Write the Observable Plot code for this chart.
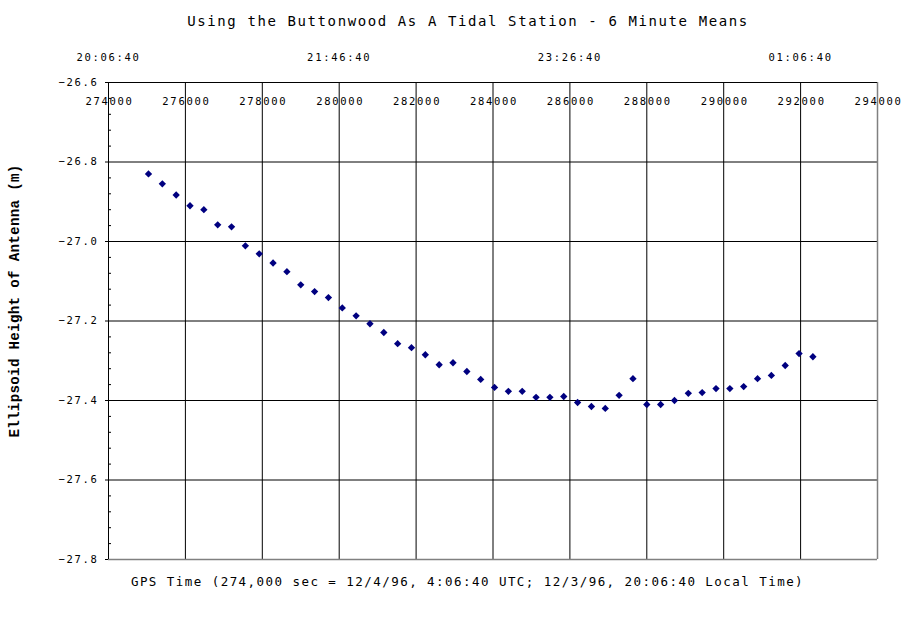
<!DOCTYPE html>
<html>
<head>
<meta charset="utf-8">
<script src="https://cdn.jsdelivr.net/npm/d3@7"></script>
<script src="https://cdn.jsdelivr.net/npm/@observablehq/plot@0.6"></script>
<style>
  html, body { margin: 0; padding: 0; background: #fff; }
  svg { display: block; }
  g[font-size="10.5"] text { letter-spacing: 1.7px; }
  g[font-size="12.5"] text { letter-spacing: 1.45px; }
  g[font-size="14"] text { letter-spacing: 1.6px; }
  g[font-size="14.2"] text { letter-spacing: 0.3px; }
</style>
</head>
<body>
<div id="chart"></div>
<script>
// GPS time (seconds) of each 6‑minute mean
const gpsSeconds = [
  275040, 275400, 275760, 276120, 276480, 276840, 277200, 277560, 277920, 278280,
  278640, 279000, 279360, 279720, 280080, 280440, 280800, 281160, 281520, 281880,
  282240, 282600, 282960, 283320, 283680, 284040, 284400, 284760, 285120, 285480,
  285840, 286200, 286560, 286920, 287280, 287640, 288000, 288360, 288720, 289080,
  289440, 289800, 290160, 290520, 290880, 291240, 291600, 291960, 292320
];
// Ellipsoid height of antenna (m)
const heights = [
  -26.830, -26.855, -26.883, -26.910, -26.920, -26.958, -26.963, -27.011, -27.031, -27.054,
  -27.076, -27.109, -27.126, -27.141, -27.167, -27.187, -27.207, -27.229, -27.257, -27.267,
  -27.285, -27.310, -27.305, -27.327, -27.347, -27.367, -27.377, -27.377, -27.392, -27.392,
  -27.390, -27.405, -27.415, -27.420, -27.387, -27.345, -27.410, -27.410, -27.400, -27.382,
  -27.380, -27.370, -27.370, -27.365, -27.345, -27.337, -27.312, -27.282, -27.290
];

const xTicks = [274000, 276000, 278000, 280000, 282000, 284000, 286000, 288000, 290000, 292000, 294000];
const xGrid = [276000, 278000, 280000, 282000, 284000, 286000, 288000, 290000, 292000];
const yTicks = [-26.6, -26.8, -27.0, -27.2, -27.4, -27.6, -27.8];
const yGrid = [-26.8, -27.0, -27.2, -27.4, -27.6];
const yMinor = [-26.64, -26.68, -26.72, -26.76, -26.84, -26.88, -26.92, -26.96,
                -27.04, -27.08, -27.12, -27.16, -27.24, -27.28, -27.32, -27.36,
                -27.44, -27.48, -27.52, -27.56, -27.64, -27.68, -27.72, -27.76];
const timeLabelSeconds = [274000, 280000, 286000, 292000];
const timeLabels = ["20:06:40", "21:46:40", "23:26:40", "01:06:40"];

const title = "Using the Buttonwood As A Tidal Station - 6 Minute Means";
const xLabel = "GPS Time (274,000 sec = 12/4/96, 4:06:40 UTC; 12/3/96, 20:06:40 Local Time)";
const yLabel = "Ellipsoid Height of Antenna (m)";

const points = gpsSeconds.map((s, i) => ({s, h: heights[i]}));
const timeData = timeLabelSeconds.map((s, i) => ({s, label: timeLabels[i]}));

const mono = "'DejaVu Sans Mono', monospace";

const chart = Plot.plot({
  width: 911,
  height: 623,
  marginTop: 82,
  marginRight: 34,
  marginBottom: 64,
  marginLeft: 108,
  style: {fontFamily: mono, color: "#000", background: "#fff"},
  x: {domain: [274000, 294000], axis: null},
  y: {domain: [-27.8, -26.6], axis: null},
  marks: [
    // x tick labels (drawn below grid lines, inside the plot)
    Plot.text(xTicks, {x: d => d, y: -26.6, dy: 19, dx: 1, text: d => String(d),
      fontSize: 10.5, fill: "#000", textAnchor: "middle"}),
    // time labels above the top axis
    Plot.text(timeData, {x: "s", y: -26.6, dy: -25, text: "label",
      fontSize: 10.5, fill: "#000", textAnchor: "middle"}),
    // grid
    Plot.ruleX(xGrid, {stroke: "#000", strokeWidth: 1}),
    Plot.ruleY(yGrid, {stroke: "#000", strokeWidth: 1}),
    // frame: bottom & right grey, top & left black axes
    Plot.ruleY([-27.8], {stroke: "#808080", strokeWidth: 1.5}),
    Plot.ruleX([294000], {stroke: "#808080", strokeWidth: 1.5}),
    Plot.ruleY([-26.6], {stroke: "#000", strokeWidth: 1}),
    Plot.ruleX([274000], {stroke: "#000", strokeWidth: 1}),
    // minor y ticks (inward)
    Plot.tickY(yMinor, {y: d => d, insetRight: 766, stroke: "#000"}),
    // y axis
    Plot.axisY({ticks: yTicks, anchor: "left", tickSize: 3, tickPadding: 7,
      tickFormat: d => "\u2212" + Math.abs(d).toFixed(1), fontSize: 10.5, label: null}),
    // data
    Plot.dot(points, {x: "s", y: "h", symbol: "diamond2", r: 3.3, fill: "#000080", stroke: "none"}),
    // titles
    Plot.text([title], {frameAnchor: "top", dy: -66, dx: -25, text: d => d,
      fontSize: 14, fill: "#000", textAnchor: "middle"}),
    Plot.text([xLabel], {frameAnchor: "bottom", dy: 26, dx: -25.5, text: d => d,
      fontSize: 12.5, fill: "#000", textAnchor: "middle"}),
    Plot.text([yLabel], {frameAnchor: "left", dx: -94, dy: -20, rotate: -90, text: d => d,
      textAnchor: "middle",
      fontSize: 14.2, fontWeight: "bold", fontFamily: "'Liberation Mono', monospace", fill: "#000"})
  ]
});
document.getElementById("chart").appendChild(chart);
</script>
</body>
</html>
